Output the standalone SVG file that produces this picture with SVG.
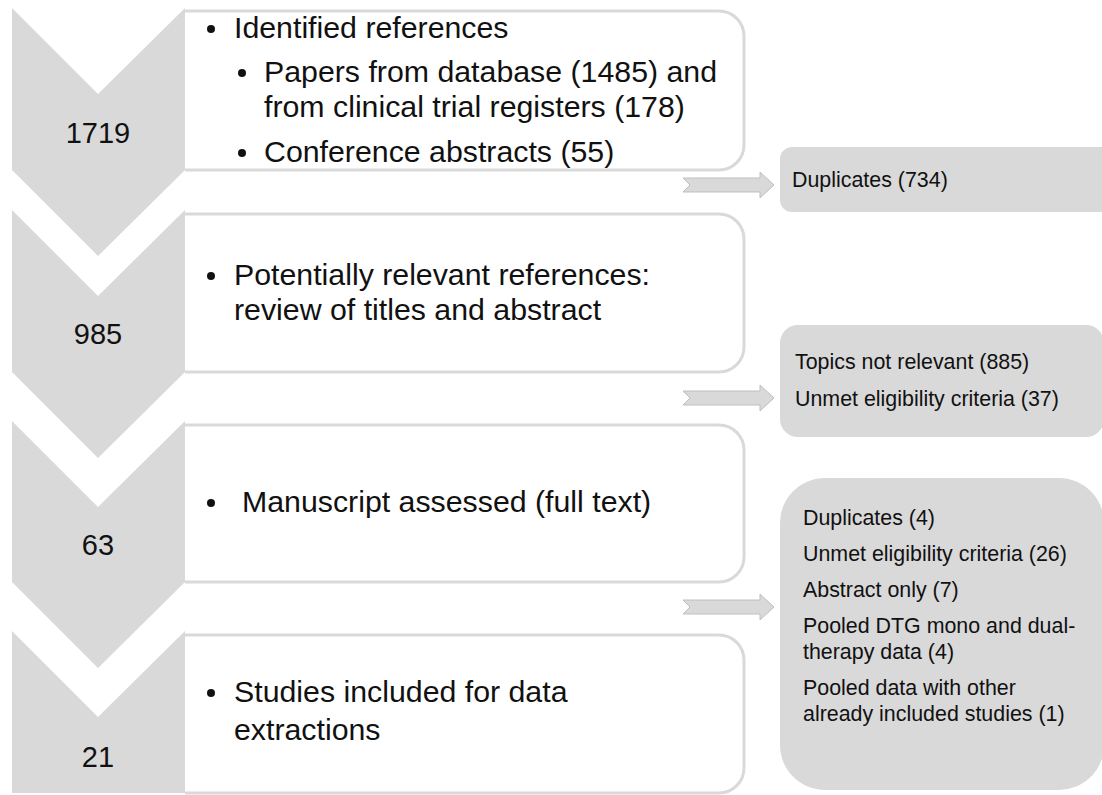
<svg xmlns="http://www.w3.org/2000/svg" width="1102" height="795" viewBox="0 0 1102 795">
<style>
.chev{fill:#d9d9d9}
.box{fill:#fff;stroke:#d9d9d9;stroke-width:3}
.side{fill:#d9d9d9}
.arrow{fill:#d9d9d9;stroke:#bfbfbf;stroke-width:1}
.num{font-family:"Liberation Sans",Arial,sans-serif;font-size:29px;fill:#111;text-anchor:middle}
.main{font-family:"Liberation Sans",Arial,sans-serif;font-size:30.3px;fill:#111}
.small{font-family:"Liberation Sans",Arial,sans-serif;font-size:21.4px;fill:#111}
.dot{fill:#111}
</style>
<rect width="1102" height="795" fill="#fff"/>
<g id="step1">
<path class="box" d="M185,11 H719 A25,25 0 0 1 744,36 V145 A25,25 0 0 1 719,170 H185"/>
<polygon class="chev" points="12,8 98,94 185,8 185,170 98,256 12,170"/>
<text class="num" x="98" y="143">1719</text>
<circle class="dot" cx="211" cy="29" r="4"/>
<text class="main" x="234" y="38">Identified references</text>
<circle class="dot" cx="242" cy="73" r="4"/>
<text class="main" x="264" y="82">Papers from database (1485) and</text>
<text class="main" x="264" y="117">from clinical trial registers (178)</text>
<circle class="dot" cx="242" cy="153" r="4"/>
<text class="main" x="264" y="162">Conference abstracts (55)</text>
</g>
<g id="step2">
<path class="box" d="M185,214 H719 A25,25 0 0 1 744,239 V347 A25,25 0 0 1 719,372 H185"/>
<polygon class="chev" points="12,210 98,296 185,210 185,372 98,458 12,372"/>
<text class="num" x="98" y="344">985</text>
<circle class="dot" cx="211" cy="276" r="4"/>
<text class="main" x="234" y="285">Potentially relevant references:</text>
<text class="main" x="234" y="320">review of titles and abstract</text>
</g>
<g id="step3">
<path class="box" d="M185,425 H719 A25,25 0 0 1 744,450 V557 A25,25 0 0 1 719,582 H185"/>
<polygon class="chev" points="12,421 98,507 185,421 185,582 98,668 12,582"/>
<text class="num" x="98" y="555">63</text>
<circle class="dot" cx="211" cy="503" r="4"/>
<text class="main" x="242" y="512">Manuscript assessed (full text)</text>
</g>
<g id="step4">
<path class="box" d="M185,635 H719 A25,25 0 0 1 744,660 V768 A25,25 0 0 1 719,793 H185"/>
<polygon class="chev" points="12,631 98,717 185,631 185,793 12,793"/>
<text class="num" x="98" y="767">21</text>
<circle class="dot" cx="211" cy="693" r="4"/>
<text class="main" x="234" y="702">Studies included for data</text>
<text class="main" x="234" y="740">extractions</text>
</g>
<g id="excl1">
<rect class="side" x="780" y="147" width="340" height="65" rx="12"/>
<text class="small" x="792" y="187">Duplicates (734)</text>
</g>
<g id="excl2">
<rect class="side" x="780" y="325" width="324" height="112" rx="18"/>
<text class="small" x="795" y="369">Topics not relevant (885)</text>
<text class="small" x="795" y="406">Unmet eligibility criteria (37)</text>
</g>
<g id="excl3">
<rect class="side" x="780" y="478" width="324" height="312" rx="45"/>
<text class="small" x="803" y="525">Duplicates (4)</text>
<text class="small" x="803" y="561">Unmet eligibility criteria (26)</text>
<text class="small" x="803" y="597">Abstract only (7)</text>
<text class="small" x="803" y="633">Pooled DTG mono and dual-</text>
<text class="small" x="803" y="659">therapy data (4)</text>
<text class="small" x="803" y="695">Pooled data with other</text>
<text class="small" x="803" y="721">already included studies (1)</text>
</g>
<g id="connectors">
<polygon class="arrow" points="683,178 760,178 760,172 774,185 760,198 760,192 683,192 690,185"/>
<polygon class="arrow" points="683,391 760,391 760,385 774,398 760,411 760,405 683,405 690,398"/>
<polygon class="arrow" points="683,600 760,600 760,594 774,607 760,620 760,614 683,614 690,607"/>
</g>
</svg>
